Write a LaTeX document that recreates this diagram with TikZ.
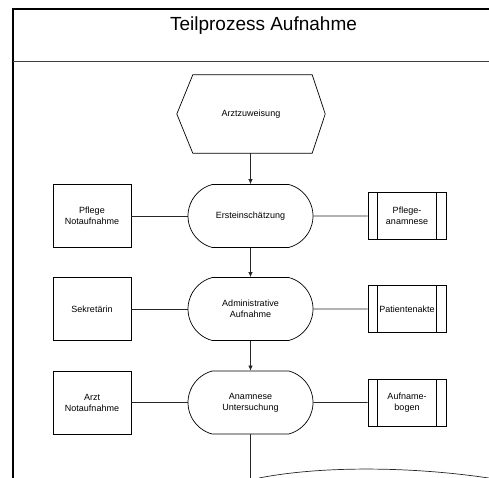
\documentclass[tikz,border=0pt]{standalone}
\usepackage{fontspec}
\setmainfont{Liberation Sans}
\usetikzlibrary{shapes.misc,arrows.meta}
\begin{document}
\begin{tikzpicture}[x=1pt,y=-1pt,
  every node/.style={font=\fontsize{9}{11}\selectfont, align=center, inner sep=0pt},
  actor/.style={draw, line width=0.7pt, minimum width=78pt, minimum height=63pt},
  activity/.style={draw, line width=0.7pt, rounded rectangle, rounded rectangle arc length=150,
    minimum width=125pt, minimum height=63pt},
  store/.style={draw, line width=0.7pt, minimum width=78pt, minimum height=47pt,
    path picture={
      \draw[line width=0.7pt] ([xshift=9.5pt]path picture bounding box.north west) -- ([xshift=9.5pt]path picture bounding box.south west);
      \draw[line width=0.7pt] ([xshift=-9.5pt]path picture bounding box.north east) -- ([xshift=-9.5pt]path picture bounding box.south east);
    }},
  link/.style={line width=0.7pt, black!85},
  flow/.style={link, -{Latex[length=5pt,width=4.5pt]}}
]
\useasboundingbox (0,0) rectangle (489,478);

% pool frame and title bar
\draw[line width=2.5pt] (13,478) -- (13,9) -- (492,9);
\draw[line width=0.8pt, black!75] (13,61) -- (492,61);
\node[font=\fontsize{19}{23}\selectfont, anchor=base] (title) at (263.5,31) {Teilprozess Aufnahme};

% trigger event
\node[minimum width=148pt, minimum height=78pt] (zuw) at (251,114) {Arztzuweisung};
\draw[line width=0.7pt] (zuw.west) -- ([xshift=16pt]zuw.north west) -- ([xshift=-13pt]zuw.north east)
  -- (zuw.east) -- ([xshift=-13pt]zuw.south east) -- ([xshift=16pt]zuw.south west) -- cycle;

% row 1
\node[actor] (pfl) at (92,216) {Pflege\\Notaufnahme};
\node[activity] (ers) at (250.5,216) {Ersteinschätzung};
\node[store] (pan) at (407,216) {Pflege-\\anamnese};

% row 2
\node[actor] (sek) at (92,309) {Sekretärin};
\node[activity] (adm) at (250.5,309) {Administrative\\Aufnahme};
\node[store] (pak) at (407,309) {Patientenakte};

% row 3
\node[actor] (arzt) at (92,402.5) {Arzt\\Notaufnahme};
\node[activity] (anam) at (250.5,402.5) {Anamnese\\Untersuchung};
\node[store] (bog) at (407,402.5) {Aufname-\\bogen};

% associations
\draw[link] (pfl) -- (ers);
\draw[link] (ers) -- (pan);
\draw[link] (sek) -- (adm);
\draw[link] (adm) -- (pak);
\draw[link] (arzt) -- (anam);
\draw[link] (anam) -- (bog);

% control flow
\draw[flow] (zuw.south -| ers.north) -- (ers.north);
\draw[flow] (ers) -- (adm);
\draw[flow] (adm) -- (anam);
\coordinate (down) at (250.5,480);
\draw[link] (anam.south) -- (down);

% next shape, entering from below
\draw[link] (259,478) .. controls (320,466) and (410,466) .. (492,478.5);
\end{tikzpicture}
\end{document}
